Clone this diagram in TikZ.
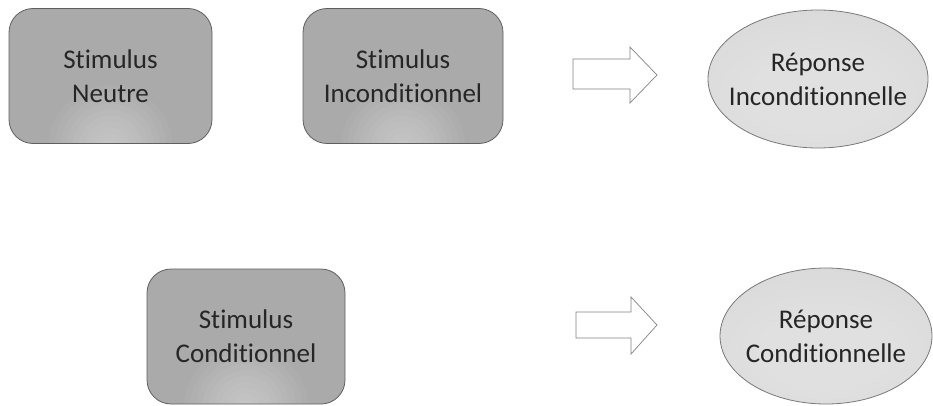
\documentclass[tikz,border=0pt]{standalone}
\usepackage{fontspec}
\setmainfont[Ligatures=NoCommon]{Carlito}
\usetikzlibrary{shapes.geometric}
\definecolor{boxfill}{RGB}{170,170,170}
\definecolor{boxline}{RGB}{95,95,95}
\definecolor{ellfill}{RGB}{218,218,218}
\definecolor{ellline}{RGB}{120,120,120}
\definecolor{arrline}{RGB}{130,130,130}
\tikzset{
  stimbox/.style={draw=boxline, line width=0.8pt, fill=boxfill, rounded corners=24pt,
    inner sep=0pt, align=center, font=\fontsize{27}{34}\selectfont, text=black!85,
    path picture={\foreach \r in {62,56,...,8}{
      \fill[white, opacity=0.045] ([yshift=-4pt]path picture bounding box.south) circle (\r pt);}}},
  repell/.style={ellipse, draw=ellline, line width=0.8pt, fill=ellfill, inner xsep=-30pt, inner ysep=0pt,
    align=center, font=\fontsize{27}{34}\selectfont, text=black!85,
    path picture={\foreach \r in {100,90,...,20}{
      \fill[white, opacity=0.03] ([yshift=-15pt]path picture bounding box.center) ellipse ({1.4*\r pt} and {0.8*\r pt});}}},
  bigarrow/.style={draw=arrline, line width=0.7pt, fill=white}
}
\begin{document}
\begin{tikzpicture}[x=1pt,y=-1pt]
\useasboundingbox (0,0) rectangle (933,406);
\node[stimbox, minimum width=203pt, minimum height=135pt] (sn) at (110.5,76) {Stimulus\\Neutre};
\node[stimbox, minimum width=200pt, minimum height=135pt] (si) at (403,76) {Stimulus\\Inconditionnel};
\node[repell, minimum width=220pt, minimum height=138pt] (ri) at (818,79) {Réponse\\Inconditionnelle};
\node[stimbox, minimum width=198pt, minimum height=135pt] (sc) at (246,336.5) {Stimulus\\Conditionnel};
\node[repell, minimum width=212pt, minimum height=136pt] (rc) at (826,336) {Réponse\\Conditionnelle};
% arrows
\draw[bigarrow] (573,59) -- (630,59) -- (630,47) -- (657,75) -- (630,103) -- (630,89) -- (573,89) -- cycle;
\draw[bigarrow] (576,312) -- (631,312) -- (631,297) -- (657,325) -- (631,354) -- (631,338) -- (576,338) -- cycle;
\end{tikzpicture}
\end{document}
